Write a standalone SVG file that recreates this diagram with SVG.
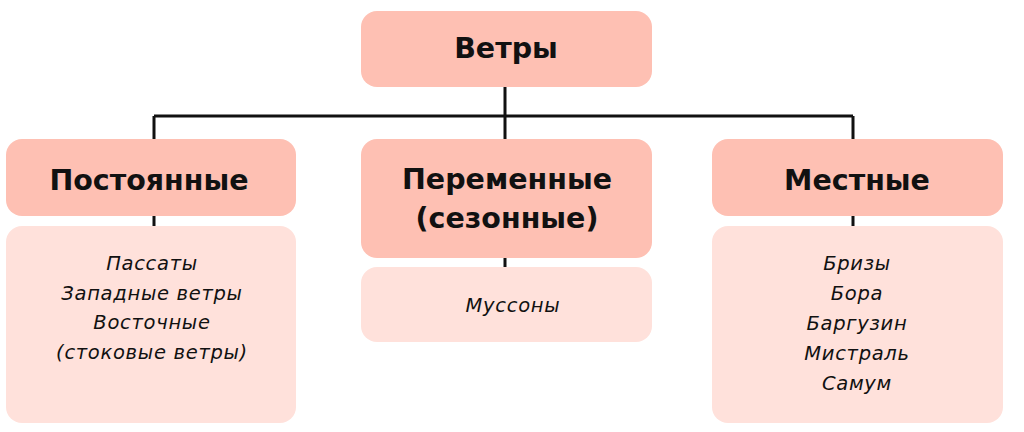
<svg xmlns="http://www.w3.org/2000/svg" width="1024" height="432" viewBox="0 0 1024 432">
<style>
.hdr{fill:#FEC0B3}
.cnt{fill:#FFE1DB}
.h{font-family:"DejaVu Sans",sans-serif;font-weight:700;font-size:28.5px;fill:#111;text-anchor:middle}
.i{font-family:"DejaVu Sans",sans-serif;font-style:italic;font-size:19.5px;letter-spacing:0.7px;fill:#111;text-anchor:middle}
.ln{stroke:#111;stroke-width:3;fill:none}
</style>
<rect width="1024" height="432" fill="#fff"/>
<g id="connectors">
<path class="ln" d="M505 87V116M154 116H853M154 116V139M505 116V139M853 116V139M154 216V226M505 258V267M853 216V226"/>
</g>
<g id="root"><rect class="hdr" x="361" y="11" width="291" height="76" rx="16"/><text class="h" x="506" y="58">Ветры</text></g>
<g id="const"><rect class="hdr" x="6" y="139" width="290" height="77" rx="16"/><text class="h" x="149" y="190">Постоянные</text></g>
<g id="var"><rect class="hdr" x="361" y="139" width="291" height="119" rx="16"/><text class="h" x="507" y="189">Переменные</text><text class="h" x="507" y="228">(сезонные)</text></g>
<g id="local"><rect class="hdr" x="712" y="139" width="291" height="77" rx="16"/><text class="h" x="857" y="190">Местные</text></g>
<g id="const-list"><rect class="cnt" x="6" y="226" width="290" height="197" rx="16"/>
<text class="i" x="152" y="270">Пассаты</text>
<text class="i" x="152" y="299.5">Западные ветры</text>
<text class="i" x="152" y="329">Восточные</text>
<text class="i" x="152" y="358.5">(стоковые ветры)</text></g>
<g id="var-list"><rect class="cnt" x="361" y="267" width="291" height="75" rx="16"/>
<text class="i" x="513" y="312">Муссоны</text></g>
<g id="local-list"><rect class="cnt" x="712" y="226" width="291" height="197" rx="16"/>
<text class="i" x="857" y="270">Бризы</text>
<text class="i" x="857" y="300">Бора</text>
<text class="i" x="857" y="330">Баргузин</text>
<text class="i" x="857" y="360">Мистраль</text>
<text class="i" x="857" y="390">Самум</text></g>
</svg>
